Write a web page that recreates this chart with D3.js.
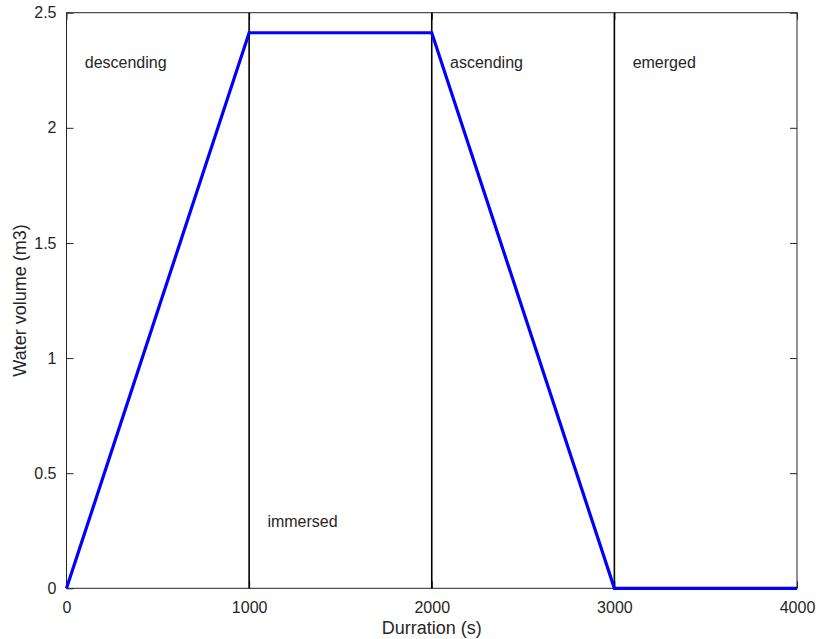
<!DOCTYPE html>
<html>
<head>
<meta charset="utf-8">
<script src="https://cdn.jsdelivr.net/npm/d3@7"></script>
<style>
  html, body { margin: 0; padding: 0; background: #fff; }
  svg text { font-family: "Liberation Sans", Arial, Helvetica, sans-serif; fill: #262626; }
</style>
</head>
<body>
<svg id="chart" width="816" height="639"></svg>
<script>
// Data
const durations = [0, 1000, 2000, 3000, 4000];
const volumes = [0, 2.413, 2.413, 0, 0];
const phaseBoundaries = [1000, 2000, 3000];
const phaseLabels = ["descending", "immersed", "ascending", "emerged"];
const phaseLabelX = [100, 1100, 2100, 3100];
const phaseLabelY = [2.26, 0.265, 2.26, 2.26];
const xTicks = [0, 1000, 2000, 3000, 4000];
const yTicks = [0, 0.5, 1, 1.5, 2, 2.5];

const svg = d3.select("#chart");
const pL = 66.5, pR = 797, pT = 12.7, pB = 588.3;

const x = d3.scaleLinear().domain([0, 4000]).range([pL, pR]);
const y = d3.scaleLinear().domain([0, 2.5]).range([pB, pT]);

// Frame
svg.append("rect")
  .attr("x", pL).attr("y", pT)
  .attr("width", pR - pL).attr("height", pB - pT)
  .attr("fill", "none").attr("stroke", "#262626").attr("stroke-width", 1);

// Axes (ticks inward)
const tickLen = 7;
svg.append("g").attr("transform", `translate(0,${pB})`)
  .call(d3.axisBottom(x).tickValues(xTicks).tickSize(-tickLen).tickPadding(13).tickFormat(d3.format("d")))
  .call(g => g.select(".domain").remove())
  .call(g => g.selectAll("line").attr("stroke", "#262626"))
  .call(g => g.selectAll("text").attr("font-size", 16).attr("fill", "#262626"));
svg.append("g").attr("transform", `translate(0,${pT})`)
  .call(d3.axisTop(x).tickValues(xTicks).tickSize(-tickLen).tickFormat(""))
  .call(g => g.select(".domain").remove())
  .call(g => g.selectAll("line").attr("stroke", "#262626"));
svg.append("g").attr("transform", `translate(${pL},0)`)
  .call(d3.axisLeft(y).tickValues(yTicks).tickSize(-tickLen).tickPadding(10).tickFormat(d => d3.format("")(d)))
  .call(g => g.select(".domain").remove())
  .call(g => g.selectAll("line").attr("stroke", "#262626"))
  .call(g => g.selectAll("text").attr("font-size", 16).attr("fill", "#262626"));
svg.append("g").attr("transform", `translate(${pR},0)`)
  .call(d3.axisRight(y).tickValues(yTicks).tickSize(-tickLen).tickFormat(""))
  .call(g => g.select(".domain").remove())
  .call(g => g.selectAll("line").attr("stroke", "#262626"));

// Phase boundary lines
svg.append("g").selectAll("line").data(phaseBoundaries).join("line")
  .attr("x1", d => x(d)).attr("x2", d => x(d))
  .attr("y1", y(0)).attr("y2", y(2.5))
  .attr("stroke", "#000").attr("stroke-width", 1.6);

// Volume line
const line = d3.line().x((d, i) => x(durations[i])).y(d => y(d));
svg.append("path").datum(volumes)
  .attr("d", line)
  .attr("fill", "none").attr("stroke", "#0000ff").attr("stroke-width", 3.2)
  .attr("stroke-linejoin", "miter");

// Phase labels
svg.append("g").selectAll("text").data(phaseLabels).join("text")
  .attr("x", (d, i) => x(phaseLabelX[i]))
  .attr("y", (d, i) => y(phaseLabelY[i]))
  .attr("font-size", 16)
  .attr("fill", "#262626")
  .text(d => d);

// Axis labels
svg.append("text")
  .attr("x", (pL + pR) / 2).attr("y", 634)
  .attr("text-anchor", "middle").attr("font-size", 18)
  .text("Durration (s)");
svg.append("text")
  .attr("transform", `translate(26,${(pT + pB) / 2}) rotate(-90)`)
  .attr("text-anchor", "middle").attr("font-size", 18)
  .text("Water volume (m3)");
</script>
</body>
</html>
